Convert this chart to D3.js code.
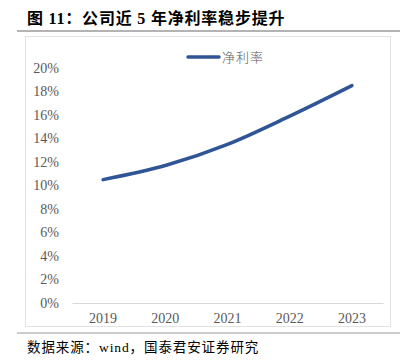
<!DOCTYPE html>
<html><head><meta charset="utf-8">
<script src="https://cdn.jsdelivr.net/npm/d3@7"></script>
<style>
body{margin:0;background:#fff;}
svg{display:block;}
text{font-family:"Liberation Serif","Noto Sans CJK SC",serif;}
</style></head>
<body><svg id="c" width="412" height="364"></svg>
<script>
const categories = ["2019","2020","2021","2022","2023"];
const netMargin = [10.5, 11.7, 13.5, 15.9, 18.5];
const yTicks = [0,2,4,6,8,10,12,14,16,18,20];
const seriesName = "净利率";
const titleText = "图 11：公司近 5 年净利率稳步提升";
const sourceText = "数据来源：wind，国泰君安证券研究";

const svg = d3.select("#c");
// title
svg.append("text").attr("x",27).attr("y",24).attr("font-size",16).attr("font-weight","bold")
  .attr("letter-spacing",0.8).attr("fill","#000").text(titleText);
svg.append("line").attr("x1",17).attr("x2",400).attr("y1",31).attr("y2",31)
  .attr("stroke","#9a9a9a").attr("stroke-width",1.5);
// box
svg.append("rect").attr("x",25.5).attr("y",36.5).attr("width",365).attr("height",290)
  .attr("fill","none").attr("stroke","#e3e3e3").attr("stroke-width",1);
svg.append("line").attr("x1",17).attr("x2",400).attr("y1",333).attr("y2",333)
  .attr("stroke","#9a9a9a").attr("stroke-width",1);
svg.append("text").attr("x",27).attr("y",352).attr("font-size",13.5).attr("letter-spacing",0.9)
  .attr("fill","#000").text(sourceText);

const x = d3.scaleBand().domain(categories).range([72,383]);
const y = d3.scaleLinear().domain([0,20]).range([303,68]);

// y axis labels
const ya = svg.append("g").attr("transform","translate(59,0)")
  .call(d3.axisLeft(y).tickValues(yTicks).tickSize(0).tickPadding(0).tickFormat(d=>d+"%"));
ya.select(".domain").remove();
ya.selectAll("text").attr("font-size",14).attr("fill","#595959")
  .style("font-family","'Liberation Serif',serif");

// x axis
const xa = svg.append("g").attr("transform","translate(0,303)")
  .call(d3.axisBottom(x).tickSize(0).tickPadding(10));
xa.select(".domain").attr("stroke","#d9d9d9").attr("stroke-width",1);
xa.selectAll("text").attr("font-size",14).attr("fill","#595959")
  .style("font-family","'Liberation Serif',serif");

// line
const line = d3.line().x((d,i)=>x(categories[i])+x.bandwidth()/2).y(d=>y(d))
  .curve(d3.curveMonotoneX);
svg.append("path").datum(netMargin).attr("d",line).attr("fill","none")
  .attr("stroke","#2F5597").attr("stroke-width",3.5).attr("stroke-linecap","round");

// legend
svg.append("line").attr("x1",188).attr("x2",219).attr("y1",57).attr("y2",57)
  .attr("stroke","#2F5597").attr("stroke-width",3.5).attr("stroke-linecap","round");
svg.append("text").attr("x",222).attr("y",62).attr("font-size",13).attr("fill","#595959")
  .attr("letter-spacing",1)
  .style("font-family","'Noto Sans CJK SC',sans-serif").style("font-weight","300").text(seriesName);
</script></body></html>
